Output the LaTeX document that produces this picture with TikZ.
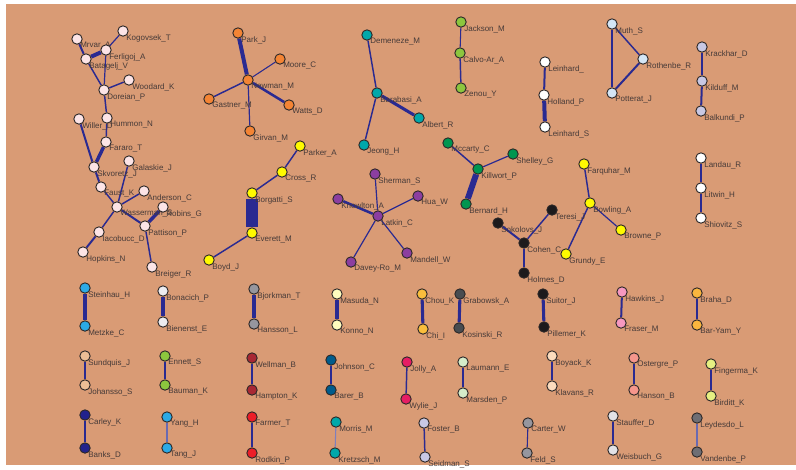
\documentclass[tikz,border=0pt]{standalone}
\usepackage{fontspec}
\setmainfont{Liberation Sans}
\usepackage{xcolor}
\usepackage{tikz}
\usetikzlibrary{positioning, backgrounds}
\definecolor{clay}{RGB}{217,155,117}
\definecolor{ink}{RGB}{42,42,145}
\definecolor{rim}{RGB}{45,40,40}
\definecolor{smudge}{RGB}{70,58,56}
\definecolor{rose}{RGB}{252,228,230}
\definecolor{ember}{RGB}{244,132,52}
\definecolor{lagoon}{RGB}{0,168,170}
\definecolor{lime}{RGB}{140,198,62}
\definecolor{ice}{RGB}{212,230,246}
\definecolor{lilac}{RGB}{200,200,228}
\definecolor{lemon}{RGB}{255,250,0}
\definecolor{plum}{RGB}{140,62,160}
\definecolor{moss}{RGB}{0,150,80}
\definecolor{coal}{RGB}{28,26,28}
\definecolor{sky}{RGB}{44,170,230}
\definecolor{pearl}{RGB}{236,236,240}
\definecolor{tan}{RGB}{236,190,150}
\definecolor{navy}{RGB}{34,34,140}
\definecolor{steel}{RGB}{150,150,158}
\definecolor{cream}{RGB}{255,252,190}
\definecolor{wine}{RGB}{168,40,52}
\definecolor{petrol}{RGB}{0,92,140}
\definecolor{scarlet}{RGB}{236,30,40}
\definecolor{amber}{RGB}{250,190,60}
\definecolor{graphite}{RGB}{72,76,80}
\definecolor{ruby}{RGB}{230,30,100}
\definecolor{mint}{RGB}{212,236,202}
\definecolor{peach}{RGB}{252,220,190}
\definecolor{blush}{RGB}{246,152,192}
\definecolor{gold}{RGB}{250,182,62}
\definecolor{salmon}{RGB}{246,150,140}
\definecolor{pistachio}{RGB}{230,240,130}
\definecolor{chalk}{RGB}{226,226,230}
\definecolor{smoke}{RGB}{110,110,116}

\begin{document}
\begin{tikzpicture}[x=0.75pt, y=-0.75pt,
  au/.style={circle, draw=rim, line width=0.7pt, minimum size=7.8pt, inner sep=0pt},
  lab/.style={font=\fontsize{6}{6}\selectfont, text=smudge, inner sep=0pt},
  tie/.style={draw=ink, line width=1.1pt},
  label distance=-1pt]
\useasboundingbox (0,0) rectangle (796,469);
% big cluster
\node[au, fill=rose, label={[lab]below right:Mrvar\_A}] (mrvar) at (77,39) {};
\node[au, fill=rose, label={[lab]below right:Kogovsek\_T}] (kogovsek) at (123,31) {};
\node[au, fill=rose, label={[lab]below right:Ferligoj\_A}] (ferligoj) at (106,50) {};
\node[au, fill=rose, label={[lab]below right:Batagelj\_V}] (batagelj) at (86,59) {};
\node[au, fill=rose, label={[lab]below right:Woodard\_K}] (woodard) at (129,80) {};
\node[au, fill=rose, label={[lab]below right:Doreian\_P}] (doreian) at (104,90) {};
\node[au, fill=rose, label={[lab]below right:Hummon\_N}] (hummon) at (107,118) {};
\node[au, fill=rose, label={[lab]below right:Willer\_D}] (willer) at (79,119) {};
\node[au, fill=rose, label={[lab]below right:Fararo\_T}] (fararo) at (106,142) {};
\node[au, fill=rose, label={[lab]below right:Skvoretz\_J}] (skvoretz) at (94,167) {};
\node[au, fill=rose, label={[lab]below right:Galaskie\_J}] (galaskie) at (129,161) {};
\node[au, fill=rose, label={[lab]below right:Faust\_K}] (faust) at (101,187) {};
\node[au, fill=rose, label={[lab]below right:Anderson\_C}] (anderson) at (144,191) {};
\node[au, fill=rose, label={[lab]below right:Wasserman\_S}] (wasserman) at (117,207) {};
\node[au, fill=rose, label={[lab]below right:Robins\_G}] (robins) at (163,207) {};
\node[au, fill=rose, label={[lab]below right:Pattison\_P}] (pattison) at (145,226) {};
\node[au, fill=rose, label={[lab]below right:Iacobucc\_D}] (iacobucc) at (99,232) {};
\node[au, fill=rose, label={[lab]below right:Hopkins\_N}] (hopkins) at (83,252) {};
\node[au, fill=rose, label={[lab]below right:Breiger\_R}] (breiger) at (152,267) {};
% newman group
\node[au, fill=ember, label={[lab]below right:Park\_J}] (park) at (238,33) {};
\node[au, fill=ember, label={[lab]below right:Moore\_C}] (moore) at (280,59) {};
\node[au, fill=ember, label={[lab]below right:Newman\_M}] (newman) at (248,80) {};
\node[au, fill=ember, label={[lab]below right:Gastner\_M}] (gastner) at (209,99) {};
\node[au, fill=ember, label={[lab]below right:Watts\_D}] (watts) at (289,105) {};
\node[au, fill=ember, label={[lab]below right:Girvan\_M}] (girvan) at (250,131) {};
% barabasi group
\node[au, fill=lagoon, label={[lab]below right:Demeneze\_M}] (demeneze) at (367,35) {};
\node[au, fill=lagoon, label={[lab]below right:Barabasi\_A}] (barabasi) at (377,93) {};
\node[au, fill=lagoon, label={[lab]below right:Jeong\_H}] (jeong) at (364,145) {};
\node[au, fill=lagoon, label={[lab]below right:Albert\_R}] (albert) at (419,118) {};
% small chains and triangle
\node[au, fill=lime, label={[lab]below right:Jackson\_M}] (jackson) at (461,22) {};
\node[au, fill=lime, label={[lab]below right:Calvo-Ar\_A}] (calvo) at (460,53) {};
\node[au, fill=lime, label={[lab]below right:Zenou\_Y}] (zenou) at (461,88) {};
\node[au, fill=white, label={[lab]below right:Leinhard\_}] (leinhardx) at (545,62) {};
\node[au, fill=white, label={[lab]below right:Holland\_P}] (holland) at (544,95) {};
\node[au, fill=white, label={[lab]below right:Leinhard\_S}] (leinhards) at (545,127) {};
\node[au, fill=ice, label={[lab]below right:Muth\_S}] (muth) at (612,24) {};
\node[au, fill=ice, label={[lab]below right:Rothenbe\_R}] (rothenbe) at (643,59) {};
\node[au, fill=ice, label={[lab]below right:Potterat\_J}] (potterat) at (612,93) {};
\node[au, fill=lilac, label={[lab]below right:Krackhar\_D}] (krackhar) at (702,47) {};
\node[au, fill=lilac, label={[lab]below right:Kilduff\_M}] (kilduff) at (702,81) {};
\node[au, fill=lilac, label={[lab]below right:Balkundi\_P}] (balkundi) at (701,111) {};
% middle row
\node[au, fill=lemon, label={[lab]below right:Parker\_A}] (parker) at (300,146) {};
\node[au, fill=lemon, label={[lab]below right:Cross\_R}] (cross) at (282,172) {};
\node[au, fill=lemon, label={[lab]below right:Borgatti\_S}] (borgatti) at (252,193) {};
\node[au, fill=lemon, label={[lab]below right:Everett\_M}] (everett) at (252,233) {};
\node[au, fill=lemon, label={[lab]below right:Boyd\_J}] (boyd) at (209,260) {};
\node[au, fill=plum, label={[lab]below right:Sherman\_S}] (sherman) at (375,174) {};
\node[au, fill=plum, label={[lab]below right:Knowlton\_A}] (knowlton) at (338,199) {};
\node[au, fill=plum, label={[lab]below right:Latkin\_C}] (latkin) at (378,216) {};
\node[au, fill=plum, label={[lab]below right:Hua\_W}] (hua) at (418,196) {};
\node[au, fill=plum, label={[lab]below right:Davey-Ro\_M}] (davey) at (351,262) {};
\node[au, fill=plum, label={[lab]below right:Mandell\_W}] (mandell) at (407,253) {};
\node[au, fill=moss, label={[lab]below right:Mccarty\_C}] (mccarty) at (448,143) {};
\node[au, fill=moss, label={[lab]below right:Shelley\_G}] (shelley) at (513,154) {};
\node[au, fill=moss, label={[lab]below right:Killwort\_P}] (killwort) at (478,169) {};
\node[au, fill=moss, label={[lab]below right:Bernard\_H}] (bernard) at (466,204) {};
\node[au, fill=lemon, label={[lab]below right:Farquhar\_M}] (farquhar) at (584,164) {};
\node[au, fill=lemon, label={[lab]below right:Bowling\_A}] (bowling) at (590,203) {};
\node[au, fill=lemon, label={[lab]below right:Grundy\_E}] (grundy) at (566,254) {};
\node[au, fill=lemon, label={[lab]below right:Browne\_P}] (browne) at (621,230) {};
\node[au, fill=coal, label={[lab]below right:Teresi\_J}] (teresi) at (552,210) {};
\node[au, fill=coal, label={[lab]below right:Sokolovs\_J}] (sokolovs) at (498,223) {};
\node[au, fill=coal, label={[lab]below right:Cohen\_C}] (cohen) at (524,243) {};
\node[au, fill=coal, label={[lab]below right:Holmes\_D}] (holmes) at (524,273) {};
\node[au, fill=white, label={[lab]below right:Landau\_R}] (landau) at (701,158) {};
\node[au, fill=white, label={[lab]below right:Litwin\_H}] (litwin) at (701,188) {};
\node[au, fill=white, label={[lab]below right:Shiovitz\_S}] (shiovitz) at (701,218) {};
% pairs, first row
\node[au, fill=sky, label={[lab]below right:Steinhau\_H}] (steinhau) at (85,288) {};
\node[au, fill=sky, label={[lab]below right:Metzke\_C}] (metzke) at (85,326) {};
\node[au, fill=pearl, label={[lab]below right:Bonacich\_P}] (bonacich) at (163,291) {};
\node[au, fill=pearl, label={[lab]below right:Bienenst\_E}] (bienenst) at (163,322) {};
\node[au, fill=steel, label={[lab]below right:Bjorkman\_T}] (bjorkman) at (254,289) {};
\node[au, fill=steel, label={[lab]below right:Hansson\_L}] (hansson) at (254,324) {};
\node[au, fill=cream, label={[lab]below right:Masuda\_N}] (masuda) at (337,294) {};
\node[au, fill=cream, label={[lab]below right:Konno\_N}] (konno) at (337,325) {};
\node[au, fill=amber, label={[lab]below right:Chou\_K}] (chou) at (422,294) {};
\node[au, fill=amber, label={[lab]below right:Chi\_I}] (chi) at (423,329) {};
\node[au, fill=graphite, label={[lab]below right:Grabowsk\_A}] (grabowsk) at (460,294) {};
\node[au, fill=graphite, label={[lab]below right:Kosinski\_R}] (kosinski) at (459,328) {};
\node[au, fill=coal, label={[lab]below right:Suitor\_J}] (suitor) at (543,294) {};
\node[au, fill=coal, label={[lab]below right:Pillemer\_K}] (pillemer) at (544,327) {};
\node[au, fill=blush, label={[lab]below right:Hawkins\_J}] (hawkins) at (622,292) {};
\node[au, fill=blush, label={[lab]below right:Fraser\_M}] (fraser) at (621,323) {};
\node[au, fill=gold, label={[lab]below right:Braha\_D}] (braha) at (697,293) {};
\node[au, fill=gold, label={[lab]below right:Bar-Yam\_Y}] (baryam) at (697,325) {};
% pairs, second row
\node[au, fill=tan, label={[lab]below right:Sundquis\_J}] (sundquis) at (85,356) {};
\node[au, fill=tan, label={[lab]below right:Johansso\_S}] (johansso) at (85,385) {};
\node[au, fill=lime, label={[lab]below right:Ennett\_S}] (ennett) at (165,356) {};
\node[au, fill=lime, label={[lab]below right:Bauman\_K}] (bauman) at (165,385) {};
\node[au, fill=wine, label={[lab]below right:Wellman\_B}] (wellman) at (252,358) {};
\node[au, fill=wine, label={[lab]below right:Hampton\_K}] (hampton) at (252,390) {};
\node[au, fill=petrol, label={[lab]below right:Johnson\_C}] (johnson) at (331,360) {};
\node[au, fill=petrol, label={[lab]below right:Barer\_B}] (barer) at (331,390) {};
\node[au, fill=ruby, label={[lab]below right:Jolly\_A}] (jolly) at (407,362) {};
\node[au, fill=ruby, label={[lab]below right:Wylie\_J}] (wylie) at (406,399) {};
\node[au, fill=mint, label={[lab]below right:Laumann\_E}] (laumann) at (463,362) {};
\node[au, fill=mint, label={[lab]below right:Marsden\_P}] (marsden) at (463,393) {};
\node[au, fill=peach, label={[lab]below right:Boyack\_K}] (boyack) at (552,356) {};
\node[au, fill=peach, label={[lab]below right:Klavans\_R}] (klavans) at (552,386) {};
\node[au, fill=salmon, label={[lab]below right:Ostergre\_P}] (ostergre) at (634,358) {};
\node[au, fill=salmon, label={[lab]below right:Hanson\_B}] (hanson) at (634,390) {};
\node[au, fill=pistachio, label={[lab]below right:Fingerma\_K}] (fingerma) at (711,364) {};
\node[au, fill=pistachio, label={[lab]below right:Birditt\_K}] (birditt) at (711,396) {};
% pairs, third row
\node[au, fill=navy, label={[lab]below right:Carley\_K}] (carley) at (85,415) {};
\node[au, fill=navy, label={[lab]below right:Banks\_D}] (banks) at (85,448) {};
\node[au, fill=sky, label={[lab]below right:Yang\_H}] (yang) at (167,417) {};
\node[au, fill=sky, label={[lab]below right:Tang\_J}] (tang) at (167,448) {};
\node[au, fill=scarlet, label={[lab]below right:Farmer\_T}] (farmer) at (252,417) {};
\node[au, fill=scarlet, label={[lab]below right:Rodkin\_P}] (rodkin) at (252,453) {};
\node[au, fill=lagoon, label={[lab]below right:Morris\_M}] (morris) at (336,422) {};
\node[au, fill=lagoon, label={[lab]below right:Kretzsch\_M}] (kretzsch) at (335,453) {};
\node[au, fill=lilac, label={[lab]below right:Foster\_B}] (foster) at (424,423) {};
\node[au, fill=lilac, label={[lab]below right:Seidman\_S}] (seidman) at (425,457) {};
\node[au, fill=steel, label={[lab]below right:Carter\_W}] (carter) at (528,423) {};
\node[au, fill=steel, label={[lab]below right:Feld\_S}] (feld) at (527,453) {};
\node[au, fill=chalk, label={[lab]below right:Stauffer\_D}] (stauffer) at (613,416) {};
\node[au, fill=chalk, label={[lab]below right:Weisbuch\_G}] (weisbuch) at (613,450) {};
\node[au, fill=smoke, label={[lab]below right:Leydesdo\_L}] (leydesdo) at (697,418) {};
\node[au, fill=smoke, label={[lab]below right:Vandenbe\_P}] (vandenbe) at (697,452) {};

\begin{scope}[on background layer]
\fill[clay] (6,4) rectangle (796,465);
\draw[tie, line width=1.5pt] (mrvar) -- (batagelj);
\draw[tie, line width=3pt] (batagelj) -- (ferligoj);
\draw[tie, line width=0.9pt] (kogovsek) -- (ferligoj);
\draw[tie, line width=0.9pt] (ferligoj) -- (doreian);
\draw[tie] (batagelj) -- (doreian);
\draw[tie] (doreian) -- (woodard);
\draw[tie] (doreian) -- (hummon);
\draw[tie] (hummon) -- (fararo);
\draw[tie, line width=2.6pt] (fararo) -- (skvoretz);
\draw[tie, line width=1.5pt] (willer) -- (skvoretz);
\draw[tie, line width=1.5pt] (skvoretz) -- (faust);
\draw[tie] (faust) -- (wasserman);
\draw[tie] (galaskie) -- (wasserman);
\draw[tie] (anderson) -- (wasserman);
\draw[tie, line width=1.5pt] (wasserman) -- (pattison);
\draw[tie, line width=2.6pt] (robins) -- (pattison);
\draw[tie] (wasserman) -- (iacobucc);
\draw[tie, line width=1.5pt] (iacobucc) -- (hopkins);
\draw[tie] (pattison) -- (breiger);
\draw[tie, line width=3pt] (newman) -- (park);
\draw[tie, line width=0.8pt] (newman) -- (moore);
\draw[tie] (newman) -- (gastner);
\draw[tie, line width=1.9pt] (newman) -- (watts);
\draw[tie, line width=0.9pt] (newman) -- (girvan);
\draw[tie] (demeneze) -- (barabasi);
\draw[tie] (barabasi) -- (jeong);
\draw[tie, line width=2.3pt] (barabasi) -- (albert);
\draw[tie, line width=0.8pt] (jackson) -- (calvo);
\draw[tie] (calvo) -- (zenou);
\draw[tie, line width=1.5pt] (leinhardx) -- (holland);
\draw[tie, line width=3pt] (holland) -- (leinhards);
\draw[tie] (muth) -- (rothenbe);
\draw[tie, line width=1.5pt] (rothenbe) -- (potterat);
\draw[tie] (muth) -- (potterat);
\draw[tie] (krackhar) -- (kilduff);
\draw[tie, line width=1.5pt] (kilduff) -- (balkundi);
\draw[tie] (parker) -- (cross);
\draw[tie] (cross) -- (borgatti);
\draw[tie, line width=9pt] (borgatti) -- (everett);
\draw[tie] (everett) -- (boyd);
\draw[tie, line width=1.9pt] (knowlton) -- (latkin);
\draw[tie, line width=0.9pt] (sherman) -- (latkin);
\draw[tie, line width=0.9pt] (hua) -- (latkin);
\draw[tie, line width=0.9pt] (davey) -- (latkin);
\draw[tie, line width=0.9pt] (mandell) -- (latkin);
\draw[tie] (mccarty) -- (killwort);
\draw[tie, line width=0.9pt] (shelley) -- (killwort);
\draw[tie, line width=4.5pt] (killwort) -- (bernard);
\draw[tie] (farquhar) -- (bowling);
\draw[tie] (bowling) -- (grundy);
\draw[tie, line width=0.9pt] (bowling) -- (browne);
\draw[tie, line width=1.5pt] (sokolovs) -- (cohen);
\draw[tie] (teresi) -- (cohen);
\draw[tie] (cohen) -- (holmes);
\draw[tie, line width=0.9pt] (landau) -- (litwin);
\draw[tie, line width=0.9pt] (litwin) -- (shiovitz);
\draw[tie, line width=3pt] (steinhau) -- (metzke);
\draw[tie, line width=3pt] (bonacich) -- (bienenst);
\draw[tie, line width=2.3pt] (bjorkman) -- (hansson);
\draw[tie, line width=2.3pt] (masuda) -- (konno);
\draw[tie, line width=2.3pt] (chou) -- (chi);
\draw[tie, line width=2.3pt] (grabowsk) -- (kosinski);
\draw[tie, line width=2.3pt] (suitor) -- (pillemer);
\draw[tie, line width=1.5pt] (hawkins) -- (fraser);
\draw[tie] (braha) -- (baryam);
\draw[tie, line width=1.9pt] (sundquis) -- (johansso);
\draw[tie, line width=1.9pt] (ennett) -- (bauman);
\draw[tie, line width=1.5pt] (wellman) -- (hampton);
\draw[tie, line width=1.5pt] (johnson) -- (barer);
\draw[tie] (jolly) -- (wylie);
\draw[tie] (laumann) -- (marsden);
\draw[tie] (boyack) -- (klavans);
\draw[tie] (ostergre) -- (hanson);
\draw[tie, line width=1.5pt] (fingerma) -- (birditt);
\draw[tie, line width=0.9pt] (carley) -- (banks);
\draw[tie, line width=0.8pt, draw=ink!70] (yang) -- (tang);
\draw[tie, line width=0.8pt] (farmer) -- (rodkin);
\draw[tie, line width=0.8pt, draw=ink!60] (morris) -- (kretzsch);
\draw[tie] (foster) -- (seidman);
\draw[tie, line width=0.8pt] (carter) -- (feld);
\draw[tie, line width=1.5pt] (stauffer) -- (weisbuch);
\draw[tie, line width=0.8pt, draw=ink!70] (leydesdo) -- (vandenbe);
\end{scope}
\end{tikzpicture}
\end{document}
